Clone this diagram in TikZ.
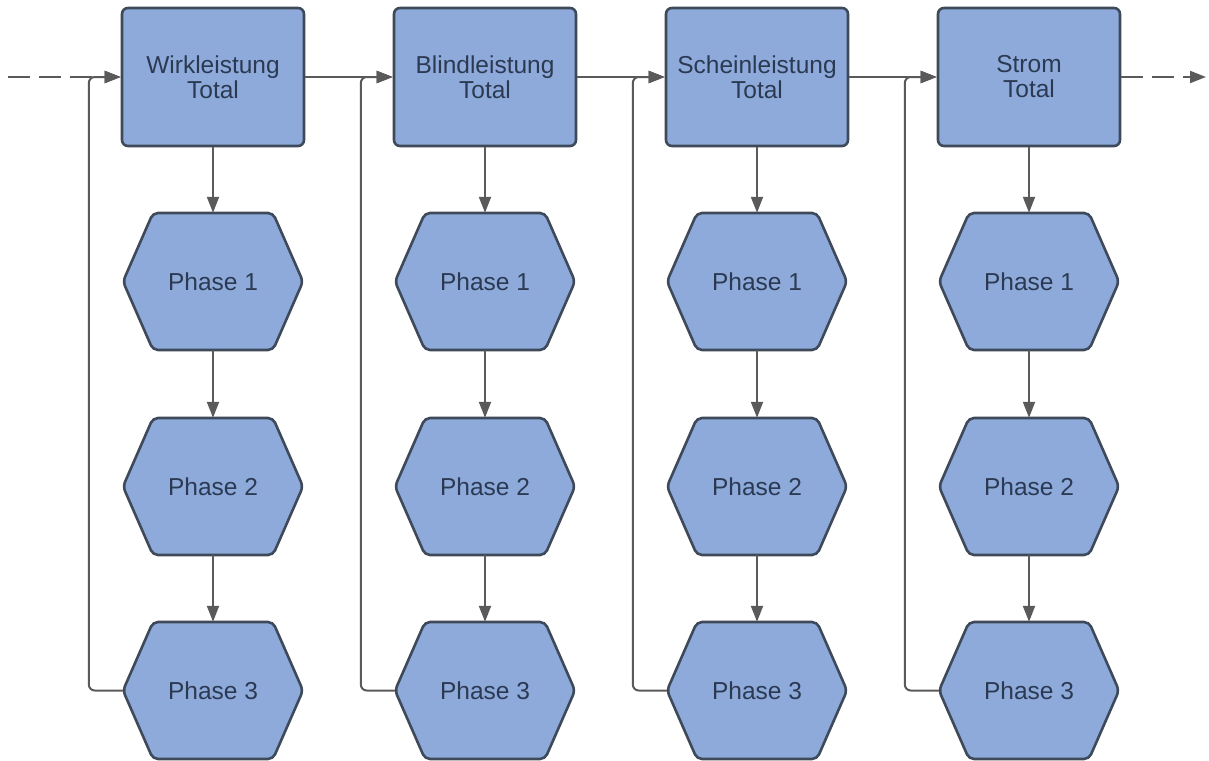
\documentclass[tikz,border=0pt]{standalone}
\usepackage{fontspec}
\setmainfont{Liberation Sans}
\usetikzlibrary{arrows.meta}
\definecolor{boxfill}{HTML}{8EAADB}
\definecolor{boxline}{HTML}{3E4A59}
\definecolor{txt}{HTML}{2B3A52}
\definecolor{conn}{HTML}{5A5A5A}
\begin{document}
\begin{tikzpicture}[x=1pt,y=-1pt,
 lbl/.style={text=txt,font=\fontsize{24.5}{25}\selectfont,align=center,inner sep=0pt},
 box/.style={lbl,draw=boxline,fill=boxfill,line width=2.6pt,rounded corners=6pt,minimum width=182pt,minimum height=138pt},
 hexlabel/.style={lbl,minimum width=180pt,minimum height=137pt},
 hexshape/.style={draw=boxline,fill=boxfill,line width=2.6pt,rounded corners=5pt},
 conn/.style={draw=conn,line width=2pt,-{Triangle[length=16pt,width=12pt]}},
 dashconn/.style={conn,dash pattern=on 22pt off 9pt}
 ]
\useasboundingbox (0,0) rectangle (1209,760);
\foreach \i/\nm in {0/Wirkleistung,1/Blindleistung,2/Scheinleistung,3/Strom} {
  \pgfmathsetmacro\cx{213+272*\i}
  \node[box] (t\i) at (\cx,77) {\nm\\Total};
  \foreach \r/\cy/\n in {a/281.5/1,b/486.5/2,c/690.5/3} {
    \draw[hexshape] (\cx-90,\cy) -- (\cx-60,\cy-68.5) -- (\cx+60,\cy-68.5) -- (\cx+90,\cy) -- (\cx+60,\cy+68.5) -- (\cx-60,\cy+68.5) -- cycle;
    \node[hexlabel] (\r\i) at (\cx,\cy) {Phase \n};
  }
}
\foreach \i in {0,...,3} {
  \draw[conn] (t\i) -- (a\i);
  \draw[conn] (a\i) -- (b\i);
  \draw[conn] (b\i) -- (c\i);
  \draw[conn,rounded corners=6pt] (c\i.west) -- ++(-34,0) |- (t\i.west);
}
\draw[conn] (t0.east) -- (t1.west);
\draw[conn] (t1.east) -- (t2.west);
\draw[conn] (t2.east) -- (t3.west);
\coordinate (start) at (8,77);
\coordinate (end) at (1206,77);
\draw[dashconn] (start) -- (t0.west);
\draw[dashconn] (t3.east) -- (end);
\end{tikzpicture}
\end{document}
